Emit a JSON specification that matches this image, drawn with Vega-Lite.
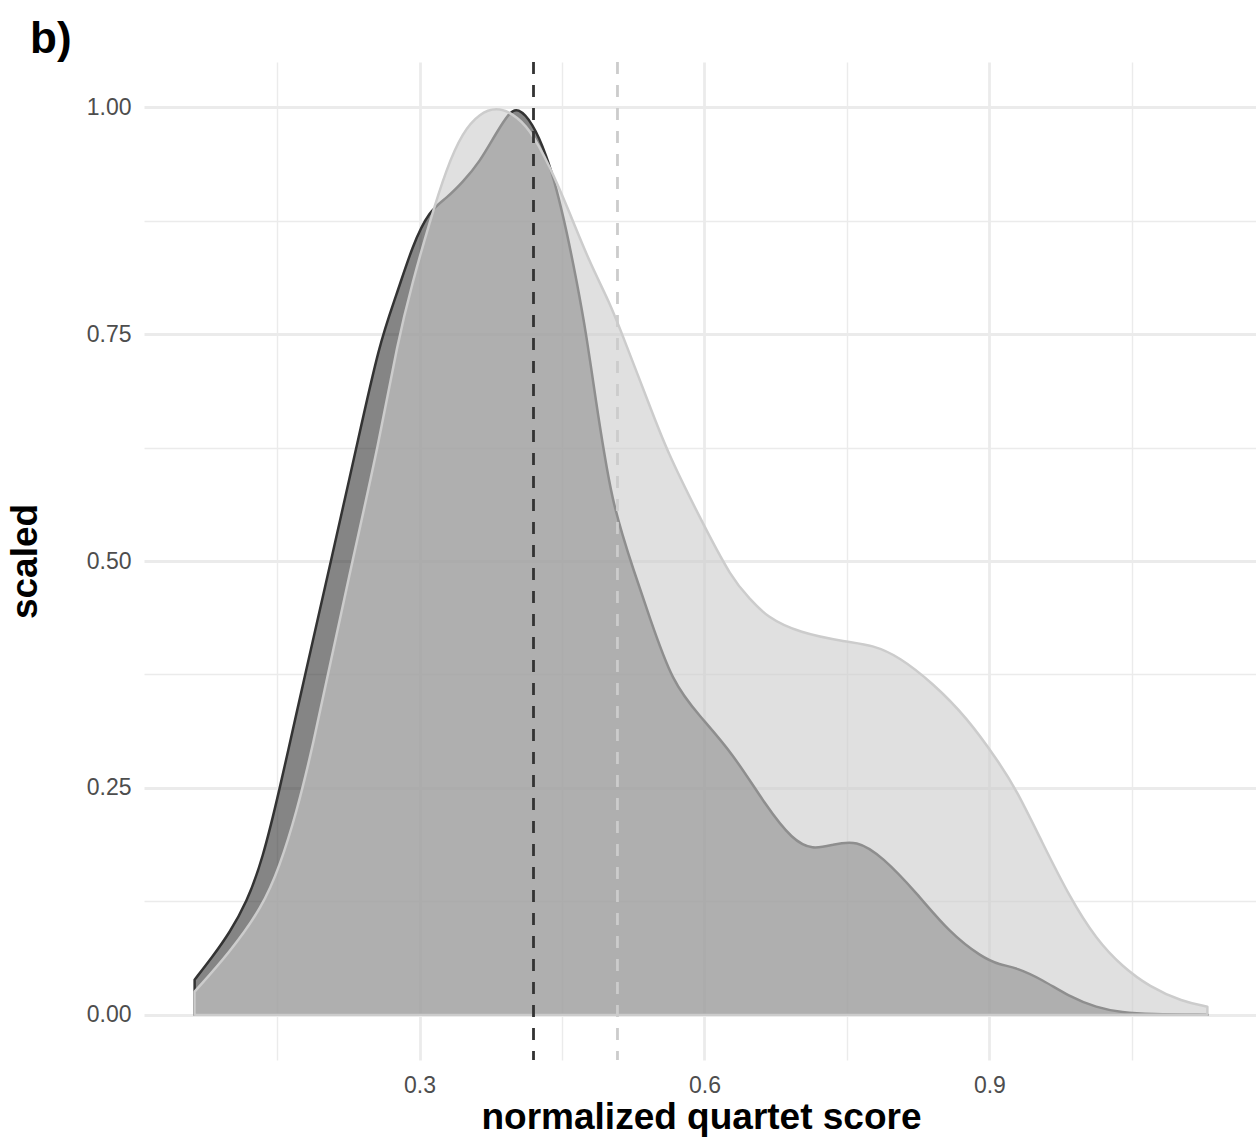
{
  "$schema": "https://vega.github.io/schema/vega-lite/v6.json",
  "width": 1114,
  "height": 998,
  "autosize": {"type": "none"},
  "padding": {"left": 144, "top": 62, "right": 0, "bottom": 81},
  "background": "white",
  "config": {
    "view": {"stroke": null},
    "font": "Liberation Sans"
  },
  "title": {
    "text": "b)",
    "anchor": "start",
    "frame": "group",
    "orient": "top",
    "dx": -114,
    "dy": 45,
    "offset": 9,
    "baseline": "alphabetic",
    "fontSize": 44,
    "fontWeight": "bold",
    "font": "Liberation Sans",
    "color": "#000000"
  },
  "datasets": {
    "dens": [
      {"group": "dark", "x": 0.0632, "y": 0.0385},
      {"group": "dark", "x": 0.0821, "y": 0.0639},
      {"group": "dark", "x": 0.1, "y": 0.0903},
      {"group": "dark", "x": 0.1179, "y": 0.1233},
      {"group": "dark", "x": 0.1347, "y": 0.1707},
      {"group": "dark", "x": 0.1526, "y": 0.2478},
      {"group": "dark", "x": 0.1705, "y": 0.3326},
      {"group": "dark", "x": 0.1874, "y": 0.4108},
      {"group": "dark", "x": 0.2053, "y": 0.4934},
      {"group": "dark", "x": 0.2337, "y": 0.6256},
      {"group": "dark", "x": 0.2579, "y": 0.7412},
      {"group": "dark", "x": 0.2758, "y": 0.793},
      {"group": "dark", "x": 0.2926, "y": 0.848},
      {"group": "dark", "x": 0.3105, "y": 0.8866},
      {"group": "dark", "x": 0.3284, "y": 0.8998},
      {"group": "dark", "x": 0.3453, "y": 0.9174},
      {"group": "dark", "x": 0.3632, "y": 0.9394},
      {"group": "dark", "x": 0.3811, "y": 0.9725},
      {"group": "dark", "x": 0.3947, "y": 0.9945},
      {"group": "dark", "x": 0.4032, "y": 1.0},
      {"group": "dark", "x": 0.4189, "y": 0.9835},
      {"group": "dark", "x": 0.4337, "y": 0.9471},
      {"group": "dark", "x": 0.4442, "y": 0.9108},
      {"group": "dark", "x": 0.4547, "y": 0.8645},
      {"group": "dark", "x": 0.4653, "y": 0.8095},
      {"group": "dark", "x": 0.4758, "y": 0.7489},
      {"group": "dark", "x": 0.4863, "y": 0.6718},
      {"group": "dark", "x": 0.4947, "y": 0.6167},
      {"group": "dark", "x": 0.5032, "y": 0.5672},
      {"group": "dark", "x": 0.5137, "y": 0.5286},
      {"group": "dark", "x": 0.5242, "y": 0.4934},
      {"group": "dark", "x": 0.5421, "y": 0.4383},
      {"group": "dark", "x": 0.5663, "y": 0.3656},
      {"group": "dark", "x": 0.5947, "y": 0.3293},
      {"group": "dark", "x": 0.6295, "y": 0.2885},
      {"group": "dark", "x": 0.6653, "y": 0.2291},
      {"group": "dark", "x": 0.6926, "y": 0.1927},
      {"group": "dark", "x": 0.7137, "y": 0.1817},
      {"group": "dark", "x": 0.7347, "y": 0.1872},
      {"group": "dark", "x": 0.76, "y": 0.1927},
      {"group": "dark", "x": 0.7874, "y": 0.174},
      {"group": "dark", "x": 0.8232, "y": 0.1344},
      {"group": "dark", "x": 0.8579, "y": 0.0903},
      {"group": "dark", "x": 0.8926, "y": 0.0628},
      {"group": "dark", "x": 0.9105, "y": 0.0551},
      {"group": "dark", "x": 0.9284, "y": 0.0518},
      {"group": "dark", "x": 0.9558, "y": 0.0385},
      {"group": "dark", "x": 0.9842, "y": 0.0198},
      {"group": "dark", "x": 1.0126, "y": 0.0077},
      {"group": "dark", "x": 1.04, "y": 0.0022},
      {"group": "dark", "x": 1.0684, "y": 0.0003},
      {"group": "dark", "x": 1.1295, "y": 0.0},
      {"group": "light", "x": 0.0632, "y": 0.0253},
      {"group": "light", "x": 0.1, "y": 0.0683},
      {"group": "light", "x": 0.1347, "y": 0.1189},
      {"group": "light", "x": 0.1526, "y": 0.163},
      {"group": "light", "x": 0.1705, "y": 0.2225},
      {"group": "light", "x": 0.1874, "y": 0.2952},
      {"group": "light", "x": 0.2, "y": 0.3579},
      {"group": "light", "x": 0.2295, "y": 0.5011},
      {"group": "light", "x": 0.2579, "y": 0.6333},
      {"group": "light", "x": 0.2768, "y": 0.7412},
      {"group": "light", "x": 0.2926, "y": 0.8073},
      {"group": "light", "x": 0.3105, "y": 0.8733},
      {"group": "light", "x": 0.3284, "y": 0.9328},
      {"group": "light", "x": 0.3453, "y": 0.9725},
      {"group": "light", "x": 0.3632, "y": 0.9934},
      {"group": "light", "x": 0.3811, "y": 1.0},
      {"group": "light", "x": 0.3979, "y": 0.9934},
      {"group": "light", "x": 0.4158, "y": 0.9769},
      {"group": "light", "x": 0.4368, "y": 0.9361},
      {"group": "light", "x": 0.4579, "y": 0.8844},
      {"group": "light", "x": 0.4789, "y": 0.8293},
      {"group": "light", "x": 0.5, "y": 0.7852},
      {"group": "light", "x": 0.5137, "y": 0.7489},
      {"group": "light", "x": 0.5421, "y": 0.6718},
      {"group": "light", "x": 0.56, "y": 0.6222},
      {"group": "light", "x": 0.5947, "y": 0.5485},
      {"group": "light", "x": 0.6295, "y": 0.479},
      {"group": "light", "x": 0.6474, "y": 0.459},
      {"group": "light", "x": 0.6653, "y": 0.4383},
      {"group": "light", "x": 0.7, "y": 0.4207},
      {"group": "light", "x": 0.7495, "y": 0.4108},
      {"group": "light", "x": 0.7768, "y": 0.4075},
      {"group": "light", "x": 0.8053, "y": 0.3943},
      {"group": "light", "x": 0.84, "y": 0.3656},
      {"group": "light", "x": 0.8758, "y": 0.3282},
      {"group": "light", "x": 0.9105, "y": 0.2775},
      {"group": "light", "x": 0.9284, "y": 0.2478},
      {"group": "light", "x": 0.9558, "y": 0.1894},
      {"group": "light", "x": 0.9842, "y": 0.13},
      {"group": "light", "x": 1.0126, "y": 0.0826},
      {"group": "light", "x": 1.04, "y": 0.0529},
      {"group": "light", "x": 1.0684, "y": 0.0308},
      {"group": "light", "x": 1.1032, "y": 0.0143},
      {"group": "light", "x": 1.1295, "y": 0.0088}
    ],
    "means": [
      {"group": "dark", "x": 0.42},
      {"group": "light", "x": 0.5084}
    ]
  },
  "layer": [
    {
      "data": {"name": "dens"},
      "transform": [{"filter": "datum.group === 'dark'"}],
      "mark": {
        "type": "area",
        "interpolate": "basis",
        "fill": "#333333",
        "fillOpacity": 0.6,
        "stroke": "#333333",
        "strokeWidth": 2.5,
        "strokeJoin": "round"
      },
      "encoding": {
        "x": {
          "field": "x",
          "type": "quantitative",
          "scale": {"domain": [0.0099, 1.1828], "nice": false, "zero": false},
          "axis": {
            "values": [0.15, 0.3, 0.45, 0.6, 0.75, 0.9, 1.05],
            "format": ".1f",
            "labelExpr": "round(datum.value*100) % 30 === 0 ? datum.label : ''",
            "domain": false,
            "ticks": false,
            "tickSize": 0,
            "grid": true,
            "gridColor": "#ebebeb",
            "gridWidth": {"condition": {"test": "round(datum.value*100) % 30 === 0", "value": 2.8}, "value": 1.4},
            "labelFont": "Liberation Sans",
            "labelFontSize": 23,
            "labelColor": "#4d4d4d",
            "labelBaseline": "alphabetic",
            "labelPadding": 32,
            "labelAlign": "center",
            "title": "normalized quartet score",
            "titleFont": "Liberation Sans",
            "titleFontSize": 37,
            "titleFontWeight": "bold",
            "titleColor": "#000000",
            "titleBaseline": "alphabetic",
            "titleY": 68
          }
        },
        "y": {
          "field": "y",
          "type": "quantitative",
          "scale": {"domain": [-0.05, 1.05], "nice": false, "zero": false},
          "axis": {
            "values": [0, 0.125, 0.25, 0.375, 0.5, 0.625, 0.75, 0.875, 1],
            "format": ".2f",
            "labelExpr": "round(datum.value*1000) % 250 === 0 ? datum.label : ''",
            "domain": false,
            "ticks": false,
            "tickSize": 0,
            "grid": true,
            "gridColor": "#ebebeb",
            "gridWidth": {"condition": {"test": "round(datum.value*1000) % 250 === 0", "value": 2.8}, "value": 1.4},
            "labelFont": "Liberation Sans",
            "labelFontSize": 23,
            "labelColor": "#4d4d4d",
            "labelBaseline": "middle",
            "labelPadding": 13,
            "title": "scaled",
            "titleFont": "Liberation Sans",
            "titleFontSize": 37,
            "titleFontWeight": "bold",
            "titleColor": "#000000",
            "titleBaseline": "alphabetic",
            "titleX": -108
          }
        }
      }
    },
    {
      "data": {"name": "dens"},
      "transform": [{"filter": "datum.group === 'light'"}],
      "mark": {
        "type": "area",
        "interpolate": "basis",
        "fill": "#cccccc",
        "fillOpacity": 0.6,
        "stroke": "#cccccc",
        "strokeWidth": 2.5,
        "strokeJoin": "round"
      },
      "encoding": {
        "x": {"field": "x", "type": "quantitative"},
        "y": {"field": "y", "type": "quantitative"}
      }
    },
    {
      "data": {"name": "means"},
      "mark": {"type": "rule", "strokeWidth": 2.8, "strokeDash": [12, 11]},
      "encoding": {
        "x": {"field": "x", "type": "quantitative"},
        "color": {
          "field": "group",
          "type": "nominal",
          "scale": {"domain": ["dark", "light"], "range": ["#333333", "#cccccc"]},
          "legend": null
        }
      }
    }
  ]
}
